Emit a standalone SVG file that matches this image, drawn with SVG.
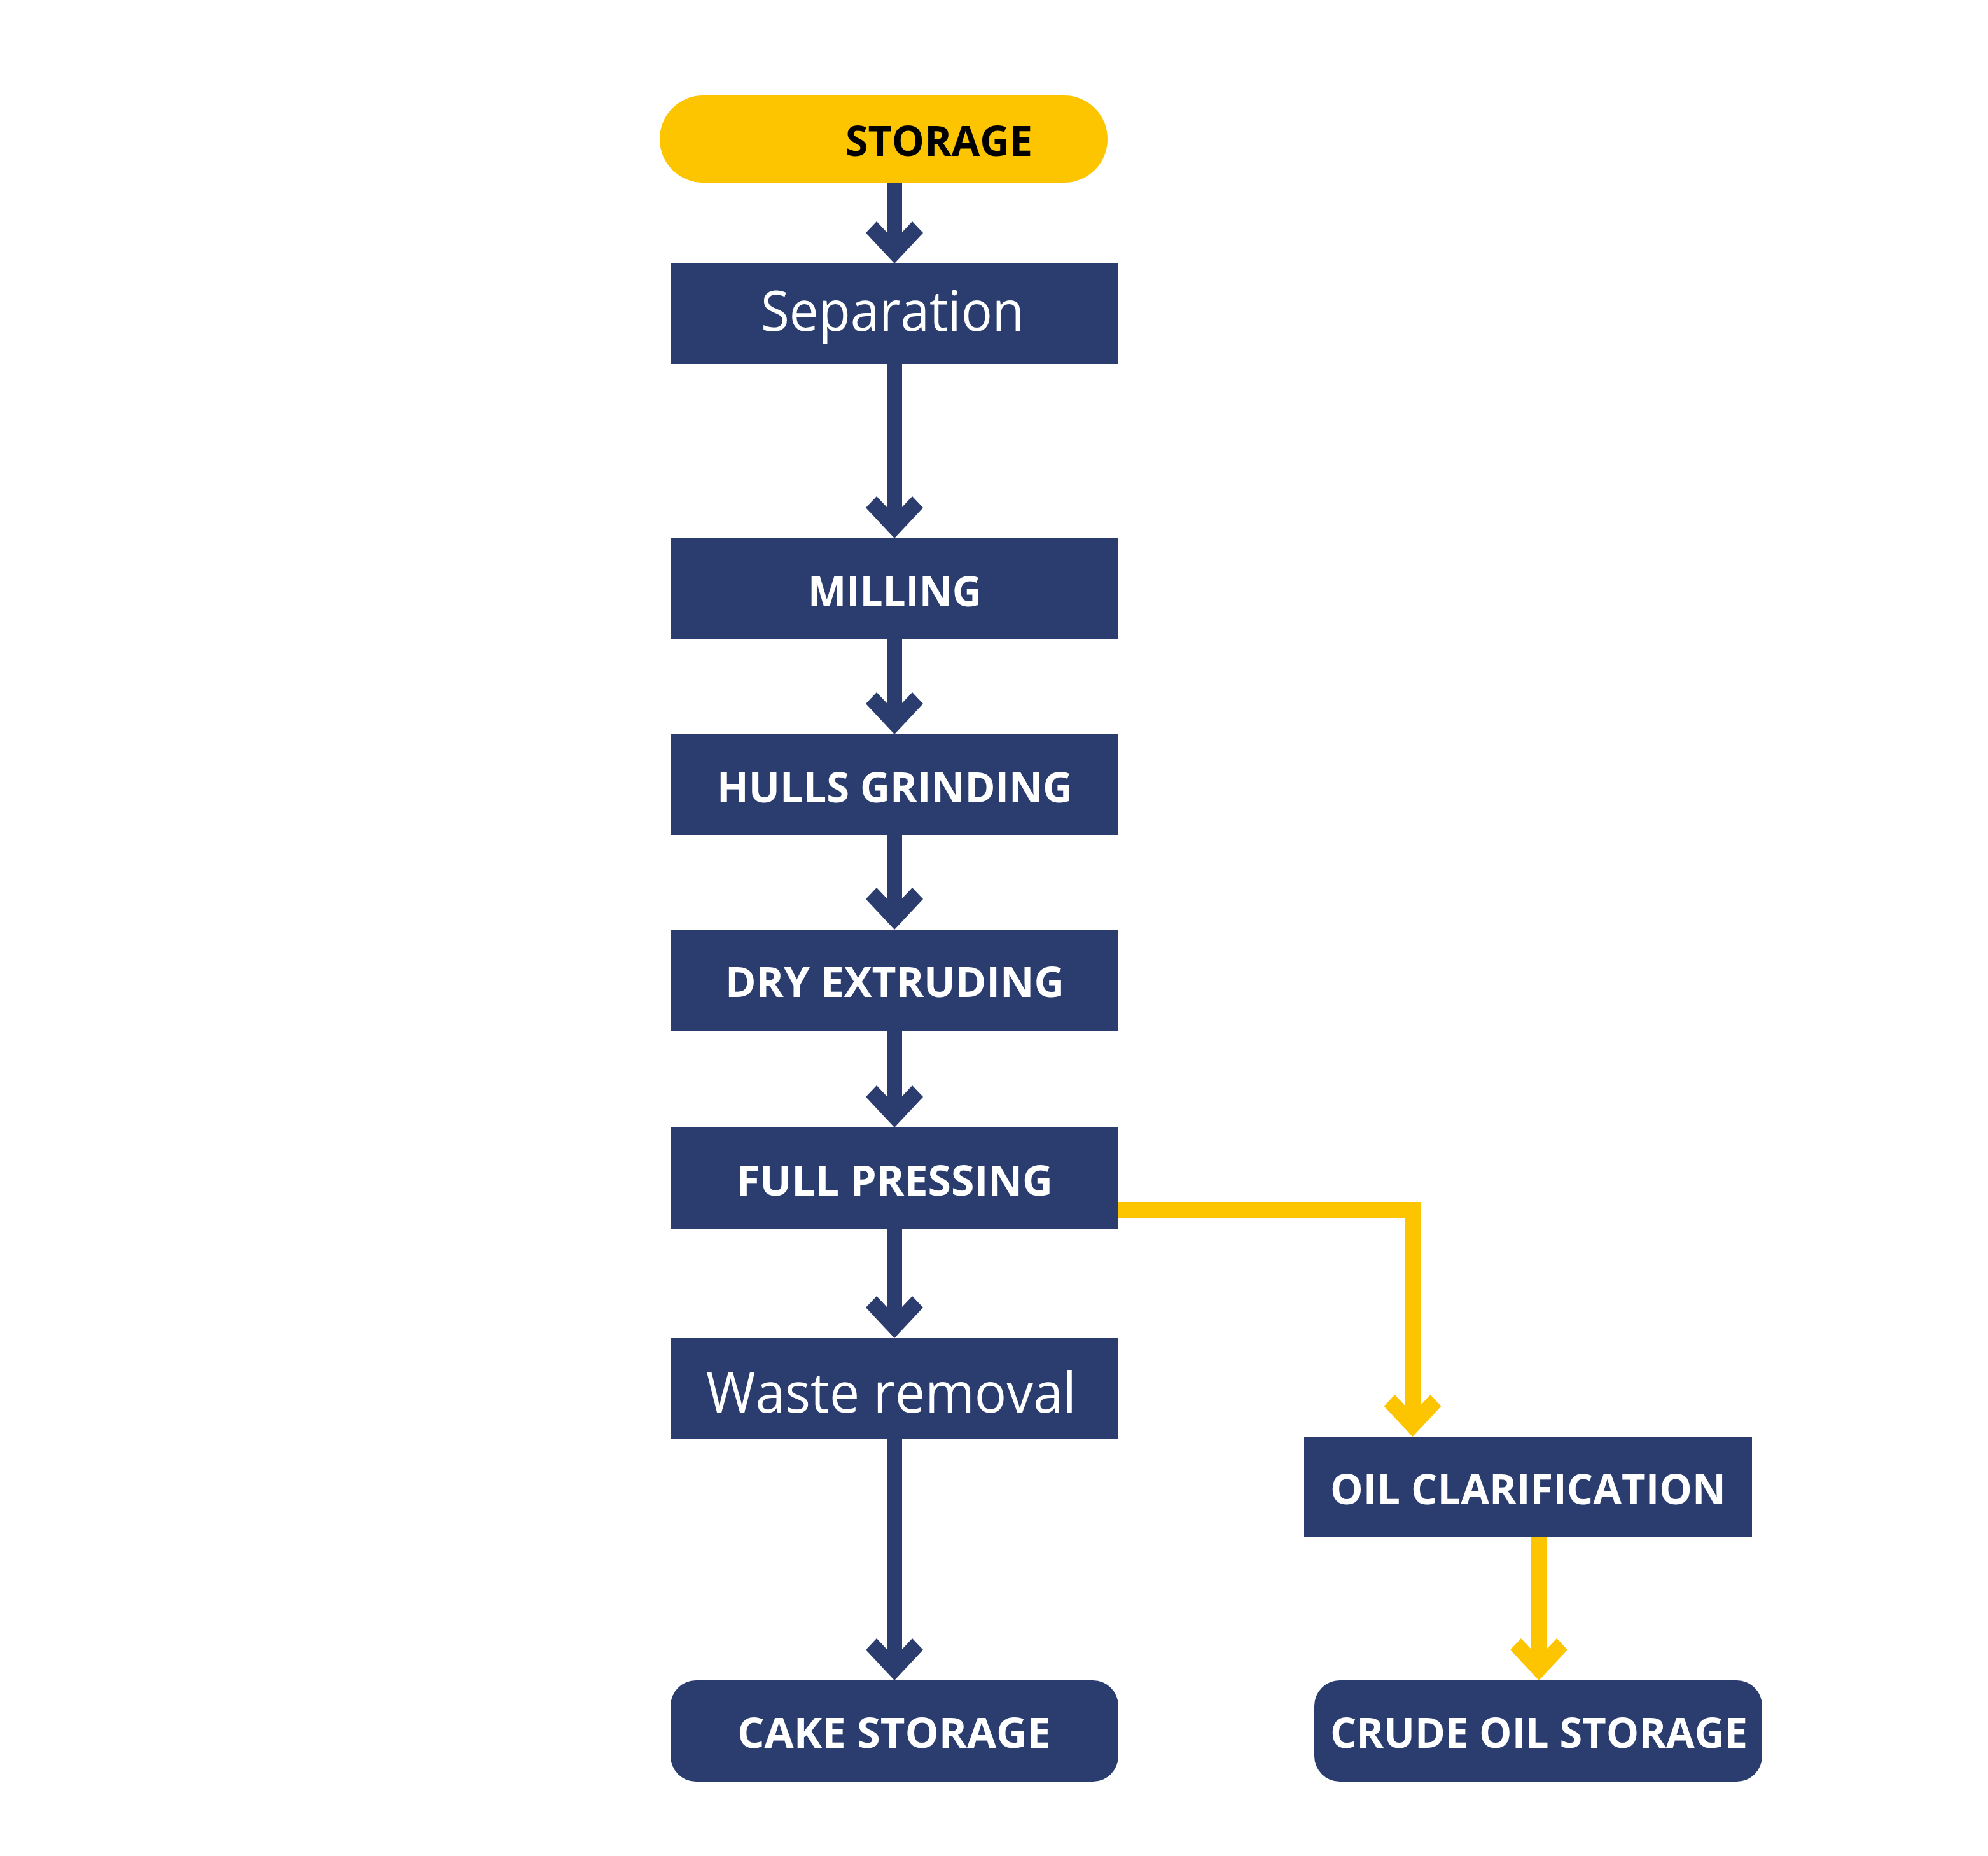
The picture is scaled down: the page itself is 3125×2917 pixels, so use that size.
<svg xmlns="http://www.w3.org/2000/svg" xmlns:xlink="http://www.w3.org/1999/xlink" width="3125" height="2917" viewBox="0 0 3125 2917">
<style>
.box{fill:#2b3d6f}
.pill{fill:#fdc500}
.b{font-family:"Open Sans","Liberation Sans",sans-serif;font-weight:700;font-size:67px;fill:#fff}
.r{font-family:"Open Sans","Liberation Sans",sans-serif;font-weight:400;font-size:87px;fill:#fff}
.navy{fill:#2b3d6f}
.yel{fill:#fdc500}
.yline{fill:none;stroke:#fdc500;stroke-width:25;stroke-linejoin:miter}
</style>
<defs>
<path id="ah" d="M-12,-49 L-28,-66 L-45,-48 L0,0 L45,-48 L28,-66 L12,-49 Z"/>
</defs>
<rect width="3125" height="2917" fill="#fff"/>
<g id="connectors">
<rect class="navy" x="1394" y="286" width="24" height="90"/>
<use href="#ah" xlink:href="#ah" class="navy" x="1406" y="414"/>
<rect class="navy" x="1394" y="571" width="24" height="235"/>
<use href="#ah" xlink:href="#ah" class="navy" x="1406" y="846"/>
<rect class="navy" x="1394" y="1003" width="24" height="111"/>
<use href="#ah" xlink:href="#ah" class="navy" x="1406" y="1154"/>
<rect class="navy" x="1394" y="1311" width="24" height="110"/>
<use href="#ah" xlink:href="#ah" class="navy" x="1406" y="1461"/>
<rect class="navy" x="1394" y="1619" width="24" height="113"/>
<use href="#ah" xlink:href="#ah" class="navy" x="1406" y="1772"/>
<rect class="navy" x="1394" y="1930" width="24" height="133"/>
<use href="#ah" xlink:href="#ah" class="navy" x="1406" y="2103"/>
<rect class="navy" x="1394" y="2260" width="24" height="341"/>
<use href="#ah" xlink:href="#ah" class="navy" x="1406" y="2641"/>
<path class="yline" d="M1757,1901.5 H2220.5 V2218"/>
<use href="#ah" xlink:href="#ah" class="yel" x="2220.5" y="2258"/>
<rect class="yel" x="2407" y="2415" width="24" height="186"/>
<use href="#ah" xlink:href="#ah" class="yel" x="2419" y="2641"/>
</g>
<g id="storage">
<rect class="pill" x="1037" y="150" width="704" height="137" rx="68" ry="68"/>
<text x="1329" y="245" textLength="294" lengthAdjust="spacingAndGlyphs" style="font-family:'Open Sans','Liberation Sans',sans-serif;font-weight:700;font-size:67px;fill:#000">STORAGE</text>
</g>
<g id="separation">
<rect class="box" x="1054" y="414" width="704" height="158"/>
<text class="r" x="1196" y="520" textLength="414" lengthAdjust="spacingAndGlyphs">Separation</text>
</g>
<g id="milling">
<rect class="box" x="1054" y="846" width="704" height="158"/>
<text class="b" x="1270" y="953" textLength="273" lengthAdjust="spacingAndGlyphs">MILLING</text>
</g>
<g id="hulls-grinding">
<rect class="box" x="1054" y="1154" width="704" height="158"/>
<text class="b" x="1127" y="1261" textLength="559" lengthAdjust="spacingAndGlyphs">HULLS GRINDING</text>
</g>
<g id="dry-extruding">
<rect class="box" x="1054" y="1461" width="704" height="159"/>
<text class="b" x="1140" y="1567" textLength="533" lengthAdjust="spacingAndGlyphs">DRY EXTRUDING</text>
</g>
<g id="full-pressing">
<rect class="box" x="1054" y="1772" width="704" height="159"/>
<text class="b" x="1158" y="1879" textLength="497" lengthAdjust="spacingAndGlyphs">FULL PRESSING</text>
</g>
<g id="waste-removal">
<rect class="box" x="1054" y="2103" width="704" height="158"/>
<text class="r" x="1110" y="2220" textLength="582" lengthAdjust="spacingAndGlyphs">Waste removal</text>
</g>
<g id="cake-storage">
<rect class="box" x="1054" y="2641" width="704" height="159" rx="40" ry="40"/>
<text class="b" x="1159" y="2747" textLength="493" lengthAdjust="spacingAndGlyphs">CAKE STORAGE</text>
</g>
<g id="oil-clarification">
<rect class="box" x="2050" y="2258" width="704" height="158"/>
<text class="b" x="2091" y="2364" textLength="622" lengthAdjust="spacingAndGlyphs">OIL CLARIFICATION</text>
</g>
<g id="crude-oil-storage">
<rect class="box" x="2066" y="2641" width="704" height="159" rx="40" ry="40"/>
<text class="b" x="2091" y="2747" textLength="656" lengthAdjust="spacingAndGlyphs">CRUDE OIL STORAGE</text>
</g>
</svg>
